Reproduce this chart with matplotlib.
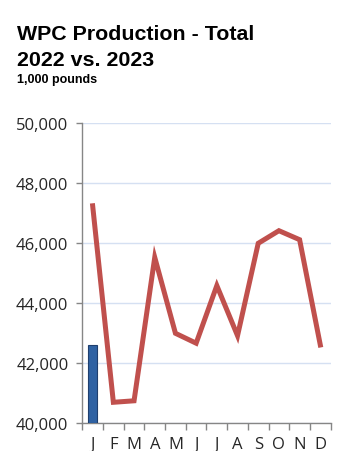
import matplotlib
matplotlib.use("Agg")
import matplotlib.pyplot as plt
import numpy as np

months = ["J", "F", "M", "A", "M", "J", "J", "A", "S", "O", "N", "D"]
prod_2022 = [47250, 40700, 40750, 45530, 43000, 42670, 44590, 42920, 46000, 46420, 46120, 42610]
prod_2023 = [42600]
yticks = [40000, 42000, 44000, 46000, 48000, 50000]

fig = plt.figure(figsize=(3.43, 4.52), dpi=100)
ax = fig.add_axes([0.240, 0.0613, 0.724, 0.6637])

x = np.arange(len(months))
ax.bar(x[:len(prod_2023)], np.array(prod_2023) - 40000, bottom=40000, width=0.43,
       color="#2F62A3", edgecolor="#1F3F6E", linewidth=0.8, zorder=3)
ax.plot(x, prod_2022, color="#C0504D", linewidth=3.6, solid_joinstyle="miter", zorder=4)

ax.set_ylim(40000, 50000)
ax.set_xlim(-0.5, len(months) - 0.5)
ax.set_yticks(yticks)
ax.set_yticklabels([f"{v:,}" for v in yticks])
ax.set_xticks(x)
ax.set_xticklabels(months)
ax.set_xticks(np.arange(-0.5, len(months)), minor=True)
ax.tick_params(axis="x", which="major", length=0, pad=9)
ax.tick_params(axis="x", which="minor", length=5, color="#868686", width=1)
ax.tick_params(axis="y", length=4, color="#868686", width=1, pad=6)
for lab in ax.get_xticklabels() + ax.get_yticklabels():
    lab.set_fontfamily("Open Sans")
    lab.set_fontsize(12)
    lab.set_color("#262626")

ax.grid(axis="y", color="#D5E0F2", linewidth=1, zorder=0)
ax.set_axisbelow(True)
for s in ["top", "right"]:
    ax.spines[s].set_visible(False)
for s in ["left", "bottom"]:
    ax.spines[s].set_color("#868686")
    ax.spines[s].set_linewidth(1)

fig.text(0.050, 1 - 40 / 452, "WPC Production - Total", fontfamily="Liberation Sans",
         fontweight="bold", fontsize=15.4, va="baseline", ha="left", color="#000")
fig.text(0.050, 1 - 66.5 / 452, "2022 vs. 2023", fontfamily="Liberation Sans",
         fontweight="bold", fontsize=15.4, va="baseline", ha="left", color="#000")
fig.text(0.050, 1 - 82.5 / 452, "1,000 pounds", fontfamily="Liberation Sans",
         fontweight="bold", fontsize=9, va="baseline", ha="left", color="#000")

fig.savefig("out.png", dpi=100)
